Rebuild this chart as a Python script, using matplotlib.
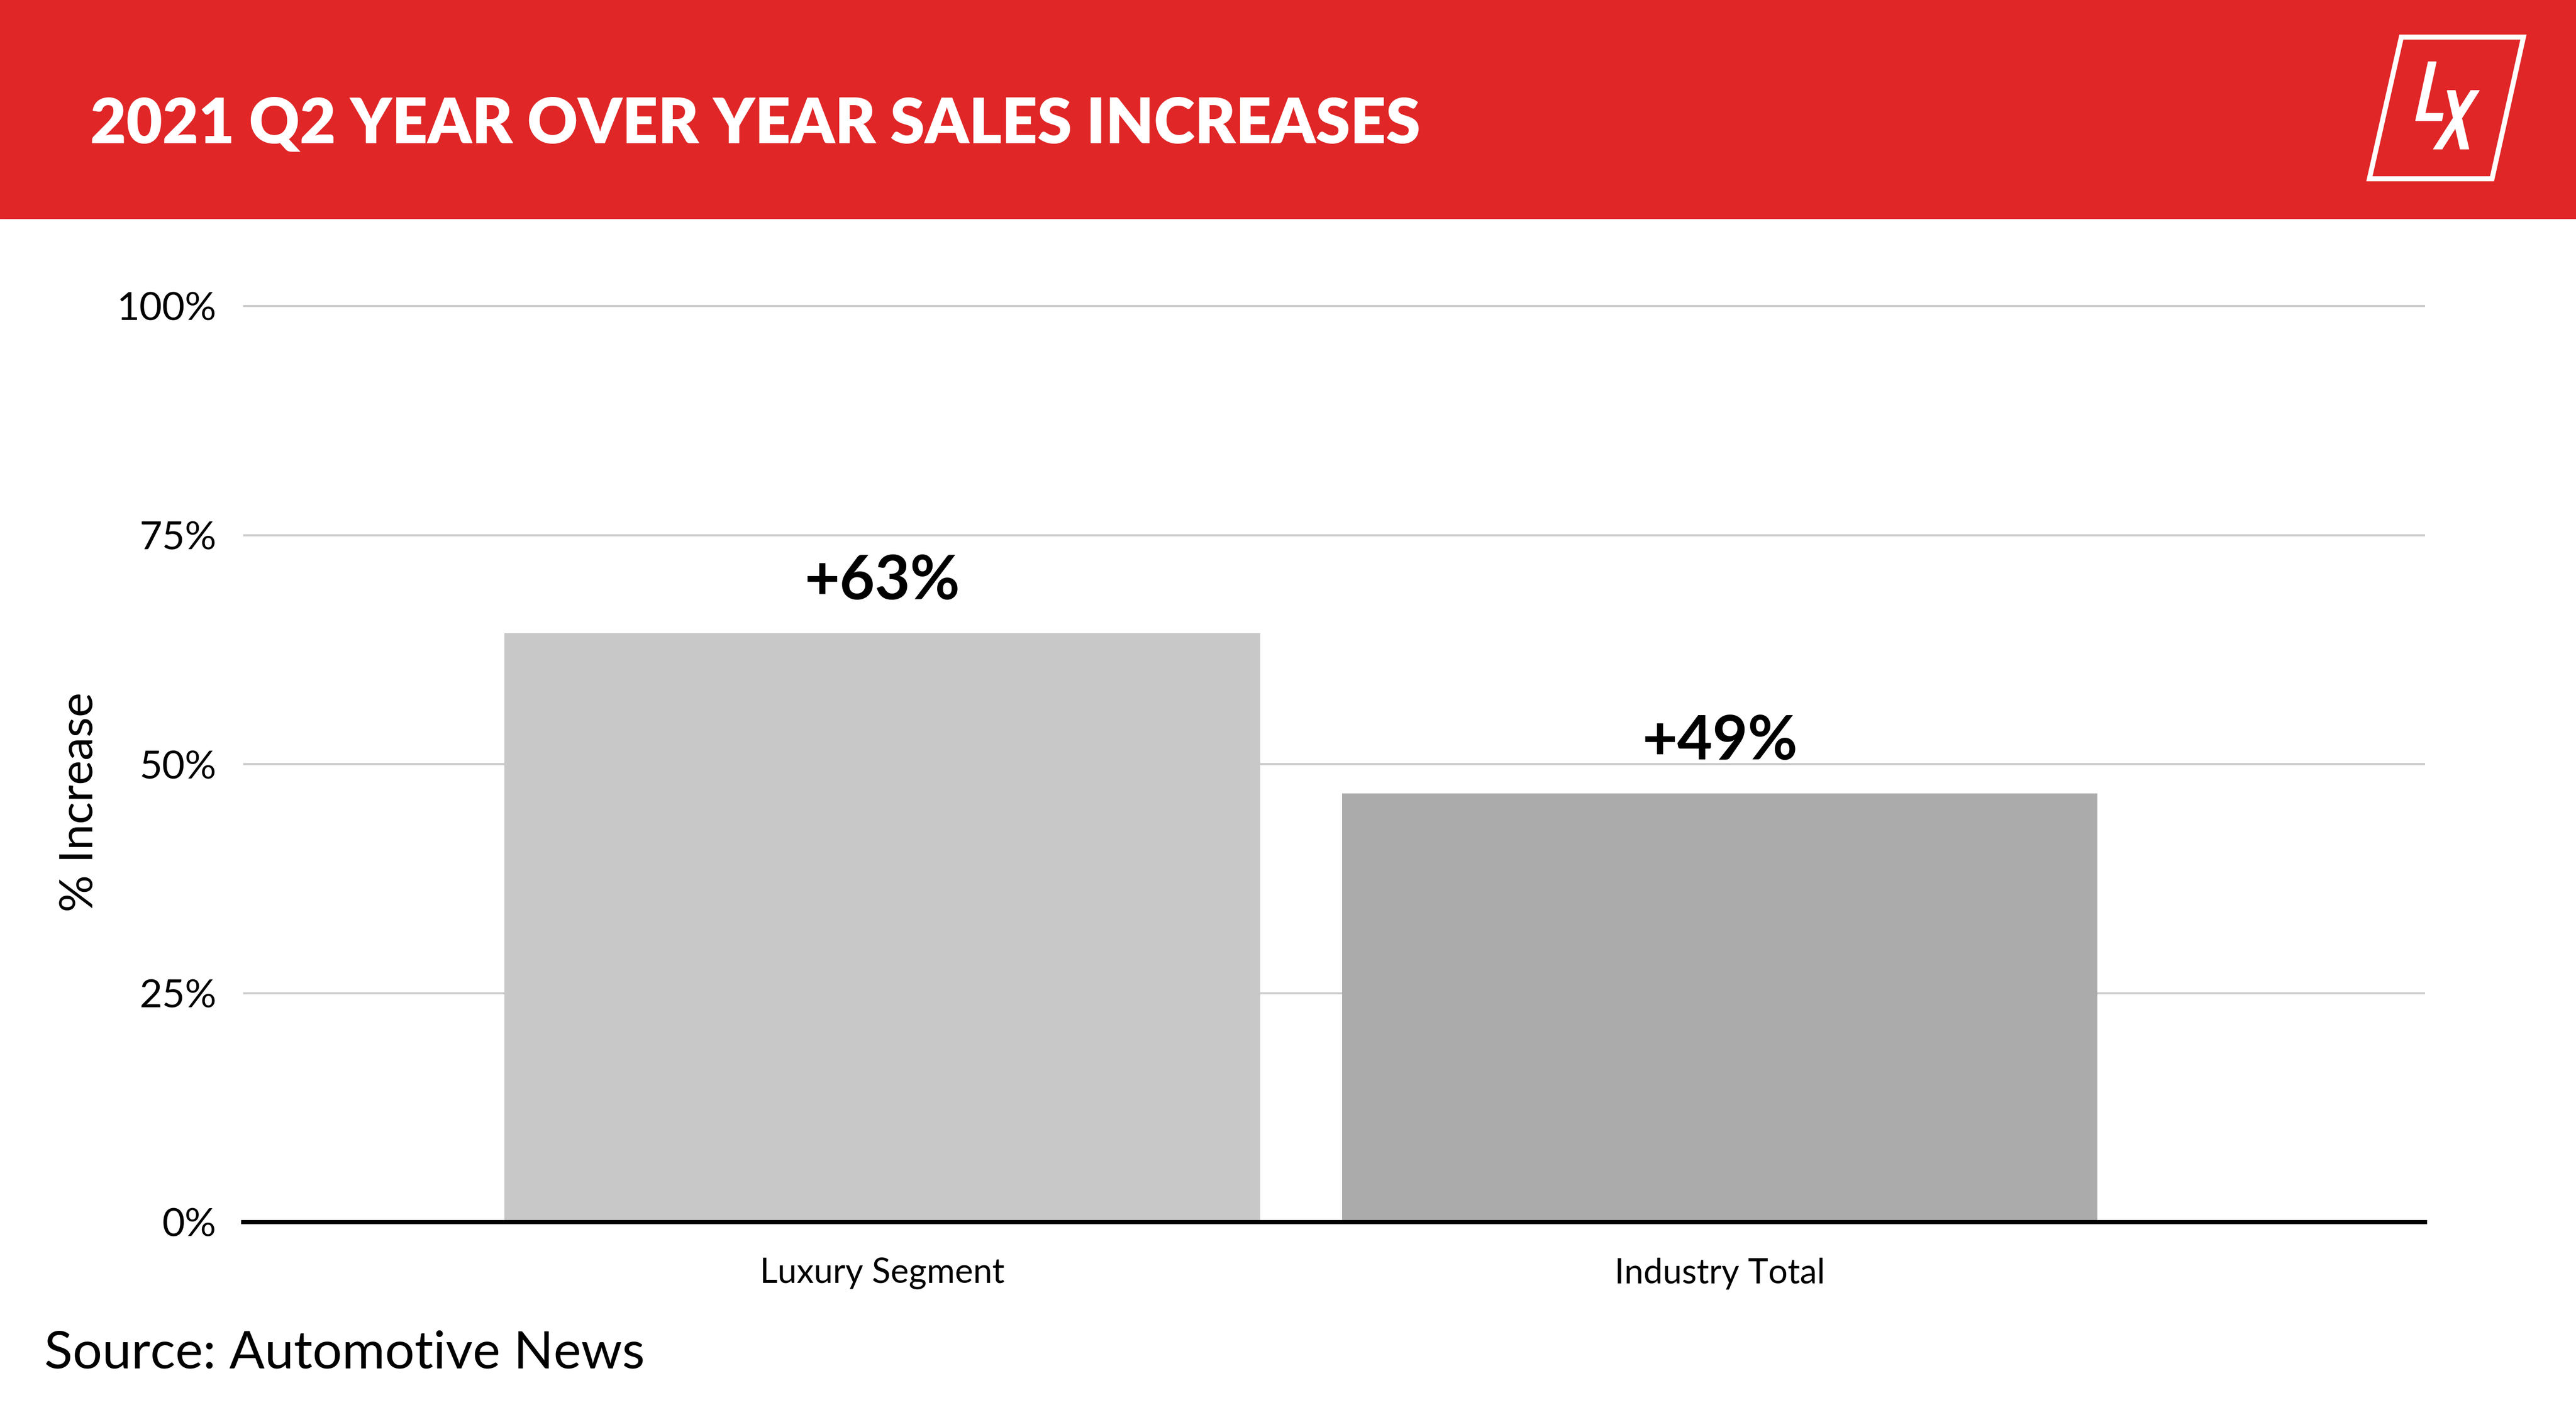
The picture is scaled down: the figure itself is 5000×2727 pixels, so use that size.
import matplotlib
matplotlib.use("Agg")
import matplotlib.pyplot as plt
from matplotlib.patches import Rectangle, Polygon

plt.rcParams['font.family'] = ['Lato', 'DejaVu Sans']

# data
categories = ['Luxury Segment', 'Industry Total']
increase = [64.3, 46.8]          # bar heights as drawn
value_labels = ['+63%', '+49%']  # labels as printed
bar_colors = ['#C8C8C8', '#ABABAB']
yticks = [0, 25, 50, 75, 100]
ytick_labels = ['0%', '25%', '50%', '75%', '100%']

W, H = 5000, 2727
fig = plt.figure(figsize=(W / 100, H / 100), dpi=100)
fig.patch.set_facecolor('white')

# main chart axes
y0 = (H - 2372) / H
h100 = (2372 - 594) / H
ax = fig.add_axes([472 / W, y0, (4707 - 472) / W, h100 * 1.03])
x = list(range(len(categories)))
ax.bar(x, increase, width=0.902, color=bar_colors, zorder=2)
ax.set_xlim(-0.763, 1.842)
ax.set_ylim(0, 103)
ax.set_yticks(yticks)
ax.set_yticklabels(ytick_labels, fontsize=55)
ax.set_xticks(x)
ax.set_xticklabels(categories, fontsize=48)
ax.tick_params(axis='y', length=0, pad=37)
ax.tick_params(axis='x', length=0, pad=50)
ax.grid(axis='y', color='#CCCCCC', linewidth=2.9, zorder=0)
for s in ['top', 'right', 'left']:
    ax.spines[s].set_visible(False)
ax.spines['bottom'].set_color('black')
ax.spines['bottom'].set_linewidth(5.8)
ax.spines['bottom'].set_zorder(3)
ax.set_ylabel('% Increase', fontsize=65)
ax.yaxis.set_label_coords(-0.065, 0.445)

for xi, v, lab in zip(x, increase, value_labels):
    ax.annotate(lab, (xi, v), xytext=(0, 33), textcoords='offset points',
                ha='center', va='bottom', fontsize=85, fontweight='bold')

# overlay in pixel coordinates for header, logo and source
ov = fig.add_axes([0, 0, 1, 1], zorder=-1)
ov.set_xlim(0, W)
ov.set_ylim(H, 0)
ov.axis('off')
ov.add_patch(Rectangle((0, 0), W, 424, color='#E02627'))

ov2 = fig.add_axes([0, 0, 1, 1], zorder=5)
ov2.set_xlim(0, W)
ov2.set_ylim(H, 0)
ov2.axis('off')
ov2.text(175, 277, '2021 Q2 YEAR OVER YEAR SALES INCREASES', color='white',
         fontsize=87, fontweight='heavy', ha='left', va='baseline')
ov2.text(86, 2655, 'Source: Automotive News', color='black',
         fontsize=73, ha='left', va='baseline')

# LX logo
ox = 4500
ov2.add_patch(Polygon([(ox + 161, 72), (ox + 398, 72), (ox + 337, 347), (ox + 99, 347)],
                      closed=True, fill=False, edgecolor='white', linewidth=7,
                      joinstyle='miter'))
ov2.add_patch(Polygon([(ox + 213.3, 120), (ox + 228.7, 120), (ox + 207, 220),
                       (ox + 242.3, 220), (ox + 239.3, 234.3), (ox + 188.7, 234.3)],
                      closed=True, color='white'))
ov2.add_patch(Polygon([(ox + 250, 175.7), (ox + 265.7, 175.7), (ox + 292, 289.3),
                       (ox + 275.3, 289.3)], closed=True, color='white'))
ov2.add_patch(Polygon([(ox + 296, 175.7), (ox + 312.3, 175.7), (ox + 240, 289.3),
                       (ox + 223.3, 289.3)], closed=True, color='white'))

fig.savefig('out.png', dpi=100)
